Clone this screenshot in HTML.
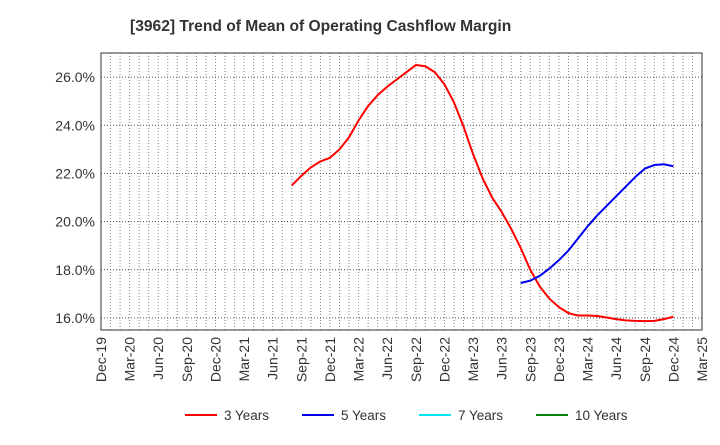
<!DOCTYPE html>
<html><head><meta charset="utf-8"><style>
body{margin:0;background:#fff;font-family:"Liberation Sans",sans-serif}
</style></head><body>
<svg id="c" width="720" height="440" xmlns="http://www.w3.org/2000/svg">
<text x="130" y="31" font-size="15.6" font-weight="bold" fill="#333">[3962]  Trend of Mean of Operating Cashflow Margin</text>
<g id="grid"></g><g id="yt"></g><g id="xt"></g><g id="series"></g>
<rect x="101" y="53" width="601" height="277" fill="none" stroke="#333" stroke-width="1"/>
<g id="legend"></g>
</svg>
<script>
const xLabels=["Dec-19","Mar-20","Jun-20","Sep-20","Dec-20","Mar-21","Jun-21","Sep-21","Dec-21","Mar-22","Jun-22","Sep-22","Dec-22","Mar-23","Jun-23","Sep-23","Dec-23","Mar-24","Jun-24","Sep-24","Dec-24","Mar-25"];
const yTicks=[16,18,20,22,24,26];
const red3Start=20;
const red3=[21.5,21.9,22.25,22.5,22.65,23.0,23.5,24.2,24.8,25.25,25.6,25.9,26.2,26.5,26.45,26.2,25.7,24.95,23.95,22.8,21.8,21.0,20.4,19.7,18.9,18.0,17.3,16.8,16.45,16.2,16.1,16.1,16.08,16.02,15.95,15.9,15.88,15.87,15.88,15.95,16.05];
const blue5Start=44;
const blue5=[17.45,17.55,17.75,18.05,18.4,18.8,19.3,19.8,20.25,20.65,21.05,21.45,21.85,22.2,22.35,22.38,22.3];
const NS="http://www.w3.org/2000/svg";
const X0=101,X1=702,Y0=53,Y1=330,MONTHS=63,VMIN=15.5,VMAX=27.0;
const xs=m=>X0+(X1-X0)*m/MONTHS;
const ys=v=>Y1-(Y1-Y0)*(v-VMIN)/(VMAX-VMIN);
function mk(t,a,p){const e=document.createElementNS(NS,t);for(const k in a)e.setAttribute(k,a[k]);p.appendChild(e);return e;}
const grid=document.getElementById('grid');
for(let m=1;m<MONTHS;m++){const l=mk('line',{x1:xs(m),x2:xs(m),y1:Y0,y2:Y1,stroke:'#888','stroke-dasharray':'1,2','stroke-width':1},grid);

}
const yt=document.getElementById('yt');
yTicks.forEach(v=>{const l=mk('line',{x1:X0,x2:X1,y1:ys(v),y2:ys(v),stroke:'#555','stroke-dasharray':'1,2'},grid);


const t=mk('text',{x:X0-6,y:ys(v)+5,'text-anchor':'end','font-size':14,fill:'#333'},yt);t.textContent=v.toFixed(1)+'%';

});
const xt=document.getElementById('xt');
xLabels.forEach((s,i)=>{const x=xs(i*3);const t=mk('text',{x:x+5,y:337,'text-anchor':'end','font-size':14,fill:'#333',transform:`rotate(-90 ${x+5} 337)`},xt);t.textContent=s;

});
const ser=document.getElementById('series');
function line(arr,start,col,name){const p=mk('polyline',{points:arr.map((v,i)=>xs(start+i)+','+ys(v)).join(' '),fill:'none',stroke:col,'stroke-width':2,'stroke-linejoin':'round'},ser);

}
line(red3,red3Start,'#ff0000','series-3-years');
line(blue5,blue5Start,'#0000ee','series-5-years');
const lg=document.getElementById('legend');
[["3 Years","#ff0000",185],["5 Years","#0000ee",302],["7 Years","#00e5ee",419],["10 Years","#008000",536]].forEach(([n,c,x])=>{
const g=mk('g',{},lg);


mk('line',{x1:x,x2:x+32,y1:415,y2:415,stroke:c,'stroke-width':2},g);
const t=mk('text',{x:x+39,y:420,'font-size':13.5,fill:'#333'},g);t.textContent=n;});
</script>
</body></html>
